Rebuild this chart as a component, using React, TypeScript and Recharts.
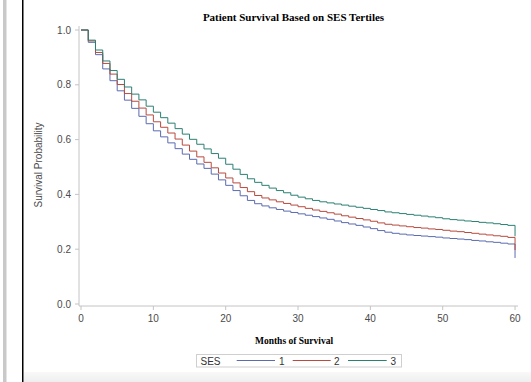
import { LineChart, Line, XAxis, YAxis } from 'recharts'

// months since diagnosis (KM step points)
const months = [
  0, 1, 2, 3, 4, 5, 6, 7, 8, 9, 10, 11, 12, 13, 14, 15, 16, 17, 18, 19, 20,
  21, 22, 23, 24, 25, 26, 27, 28, 29, 30, 31, 32, 33, 34, 35, 36, 37, 38, 39, 40,
  41, 42, 43, 44, 45, 46, 47, 48, 49, 50, 51, 52, 53, 54, 55, 56, 57, 58, 59, 60,
]

// survival probability, SES tertile 1
const ses1 = [
  1.0, 0.955, 0.91, 0.858, 0.815, 0.778, 0.744, 0.714, 0.685, 0.658, 0.632,
  0.61, 0.588, 0.567, 0.547, 0.528, 0.511, 0.495, 0.474, 0.453, 0.433,
  0.414, 0.395, 0.378, 0.366, 0.358, 0.351, 0.345, 0.339, 0.334, 0.329,
  0.324, 0.319, 0.314, 0.309, 0.303, 0.297, 0.292, 0.287, 0.281, 0.275,
  0.268, 0.262, 0.258, 0.255, 0.252, 0.25, 0.248, 0.246, 0.244, 0.241,
  0.239, 0.237, 0.235, 0.232, 0.23, 0.227, 0.225, 0.222, 0.219, 0.168,
]

// SES tertile 2
const ses2 = [
  1.0, 0.96, 0.918, 0.878, 0.839, 0.801, 0.768, 0.74, 0.715, 0.69, 0.665,
  0.645, 0.624, 0.602, 0.58, 0.558, 0.537, 0.517, 0.497, 0.478, 0.46,
  0.442, 0.425, 0.41, 0.396, 0.387, 0.38, 0.373, 0.367, 0.361, 0.355,
  0.349, 0.343, 0.338, 0.333, 0.328, 0.322, 0.317, 0.312, 0.307, 0.302,
  0.296, 0.291, 0.288, 0.285, 0.282, 0.279, 0.277, 0.274, 0.272, 0.269,
  0.266, 0.264, 0.261, 0.258, 0.255, 0.252, 0.249, 0.247, 0.243, 0.197,
]

// SES tertile 3
const ses3 = [
  1.0, 0.963, 0.927, 0.887, 0.852, 0.82, 0.792, 0.766, 0.745, 0.722, 0.7,
  0.68, 0.66, 0.64, 0.62, 0.601, 0.583, 0.566, 0.549, 0.532, 0.51,
  0.492, 0.473, 0.457, 0.444, 0.433, 0.423, 0.414, 0.406, 0.397, 0.39,
  0.384, 0.378, 0.373, 0.369, 0.365, 0.361, 0.357, 0.353, 0.349, 0.345,
  0.341, 0.336, 0.333, 0.33, 0.327, 0.324, 0.321, 0.318, 0.315, 0.311,
  0.308, 0.306, 0.303, 0.301, 0.298, 0.296, 0.293, 0.29, 0.287, 0.247,
]

const xTicks = [0, 10, 20, 30, 40, 50, 60]
const yTicks = [0, 0.2, 0.4, 0.6, 0.8, 1.0]

const data = months.map((m, i) => ({ month: m, s1: ses1[i], s2: ses2[i], s3: ses3[i] }))

const C1 = '#5a6bb0'
const C2 = '#b84a3e'
const C3 = '#2a8073'
const FRAME = '#c4c4c4'
const sans = '"Liberation Sans", Arial, sans-serif'
const serif = '"Liberation Serif", "Times New Roman", serif'

const tickStyle = { fontSize: 10, fill: '#4a4a4a', fontFamily: sans }
const xDomain = [-0.28, 60.41]
const yDomain = [-0.0073, 1.0146]

export default function App() {
  return (
    <div style={{ position: 'fixed', left: 0, top: 0, width: 531, height: 382, background: '#fff', overflow: 'hidden' }}>
      <LineChart width={531} height={382} data={data} margin={{ top: 26, right: 13, bottom: 46, left: 0 }}>
        <XAxis
          dataKey="month"
          type="number"
          domain={xDomain}
          allowDataOverflow
          ticks={xTicks}
          tick={tickStyle}
          tickSize={4}
          tickMargin={5}
          height={30}
          stroke={FRAME}
        />
        <XAxis
          xAxisId="top"
          orientation="top"
          dataKey="month"
          type="number"
          domain={xDomain}
          allowDataOverflow
          tick={false}
          tickLine={false}
          height={0}
          stroke={FRAME}
        />
        <YAxis
          type="number"
          domain={yDomain}
          allowDataOverflow
          ticks={yTicks}
          tick={tickStyle}
          tickFormatter={(v: number) => v.toFixed(1)}
          tickSize={4}
          tickMargin={4}
          width={79}
          stroke={FRAME}
        />
        <YAxis
          yAxisId="right"
          orientation="right"
          type="number"
          domain={yDomain}
          tick={false}
          tickLine={false}
          width={0}
          stroke={FRAME}
        />
        <Line type="stepAfter" dataKey="s1" stroke={C1} strokeWidth={1} dot={false} isAnimationActive={false} />
        <Line type="stepAfter" dataKey="s2" stroke={C2} strokeWidth={1} dot={false} isAnimationActive={false} />
        <Line type="stepAfter" dataKey="s3" stroke={C3} strokeWidth={1} dot={false} isAnimationActive={false} />
      </LineChart>

      <svg width={531} height={382} style={{ position: 'absolute', left: 0, top: 0, pointerEvents: 'none' }}>
        <rect x={3} y={0} width={3.5} height={382} fill="#c9c9c9" />
        <rect x={22} y={0} width={1.5} height={382} fill="#000" />
        <defs>
          <linearGradient id="band" x1="0" y1="0" x2="0" y2="1">
            <stop offset="0" stopColor="#f9f9f9" />
            <stop offset="1" stopColor="#eeeeee" />
          </linearGradient>
        </defs>
        <rect x={24} y={372} width={507} height={10} fill="url(#band)" />

        <text x={293.5} y={21} textAnchor="middle" fontFamily={serif} fontWeight="bold" fontSize={11} fill="#000">
          Patient Survival Based on SES Tertiles
        </text>
        <text x={294} y={343.5} textAnchor="middle" fontFamily={serif} fontWeight="bold" fontSize={9.5} fill="#000">
          Months of Survival
        </text>
        <text
          transform="translate(42,165) rotate(-90)"
          textAnchor="middle"
          fontFamily={sans}
          fontSize={10}
          fill="#4a4a4a"
        >
          Survival Probability
        </text>

        <rect x={196.5} y={354.5} width={205} height={12.5} fill="#fff" stroke="#cfcfcf" />
        <text x={200.5} y={364.5} fontFamily={sans} fontSize={10} fill="#333">SES</text>
        <line x1={236.7} x2={275} y1={360.5} y2={360.5} stroke={C1} />
        <text x={279} y={364.5} fontFamily={sans} fontSize={10} fill="#333">1</text>
        <line x1={292.7} x2={330.7} y1={360.5} y2={360.5} stroke={C2} />
        <text x={334} y={364.5} fontFamily={sans} fontSize={10} fill="#333">2</text>
        <line x1={348} x2={386.7} y1={360.5} y2={360.5} stroke={C3} />
        <text x={390.5} y={364.5} fontFamily={sans} fontSize={10} fill="#333">3</text>
      </svg>
    </div>
  )
}
